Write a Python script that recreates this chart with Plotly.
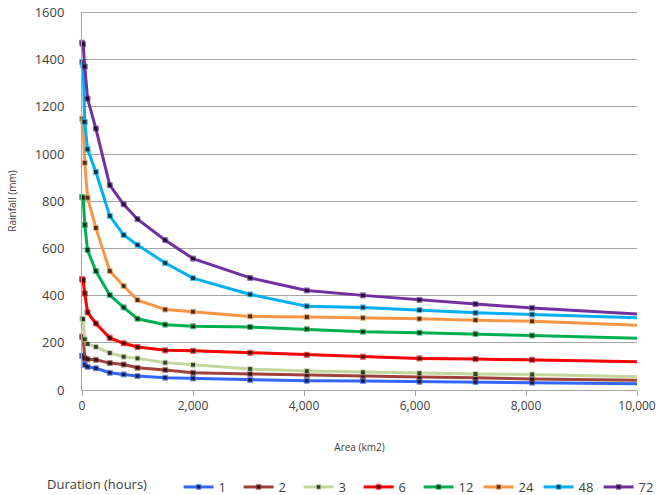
import plotly.graph_objects as go

area_km2 = [0, 20, 50, 100, 250, 500, 750, 1000, 1500, 2000, 3030, 4050, 5060, 6080, 7090, 8110, 10000]

durations = ["1", "2", "3", "6", "12", "24", "48", "72"]

rain_1h = [145, 143, 106, 98, 92, 73, 66, 59, 52, 49, 42, 39, 38, 35, 34, 31, 27]
rain_2h = [226, 224, 135, 130, 128, 114, 108, 94, 85, 73, 68, 63, 59, 55, 52, 47, 41]
rain_3h = [303, 300, 215, 195, 183, 157, 141, 134, 116, 107, 89, 80, 75, 71, 68, 66, 56]
rain_6h = [470, 465, 409, 329, 282, 221, 198, 182, 168, 166, 158, 149, 141, 134, 131, 128, 120]
rain_12h = [818, 815, 700, 593, 504, 402, 350, 302, 277, 270, 267, 258, 247, 243, 238, 231, 219]
rain_24h = [1150, 1140, 963, 815, 687, 504, 441, 381, 341, 332, 312, 309, 306, 302, 296, 291, 274]
rain_48h = [1390, 1375, 1136, 1020, 924, 738, 657, 615, 538, 474, 405, 355, 350, 339, 327, 320, 306]
rain_72h = [1472, 1465, 1371, 1235, 1108, 868, 787, 724, 635, 557, 475, 422, 401, 382, 364, 348, 322]

series = [rain_1h, rain_2h, rain_3h, rain_6h, rain_12h, rain_24h, rain_48h, rain_72h]
colors = ["#3366FF", "#A0413C", "#C3D69B", "#FF0000", "#00B050", "#F79646", "#00B0F0", "#7030A0"]

y_ticks = [0, 200, 400, 600, 800, 1000, 1200, 1400, 1600]
x_ticks = [0, 2000, 4000, 6000, 8000, 10000]

marker_sizes = [5] * (len(area_km2) - 1) + [0]

fig = go.Figure()
for name, vals, col in zip(durations, series, colors):
    fig.add_trace(go.Scatter(
        x=area_km2, y=vals, name=name, mode="lines+markers",
        line=dict(color=col, width=3),
        marker=dict(color="black", size=marker_sizes, symbol="square"),
        cliponaxis=False,
    ))

grid_col = "#A6A6A6"
fig.add_shape(type="line", xref="paper", x0=0, x1=1, yref="y", y0=y_ticks[-1], y1=y_ticks[-1],
              line=dict(color=grid_col, width=1), layer="below")

fig.update_layout(
    width=660, height=495,
    margin=dict(l=82, r=23, t=12, b=105, autoexpand=False),
    paper_bgcolor="white", plot_bgcolor="white",
    font=dict(family="Open Sans, Liberation Sans, sans-serif", color="#404040"),
    xaxis=dict(
        range=[0, 10000], tickvals=x_ticks,
        tickformat=",d", showgrid=False, zeroline=False, automargin=False,
        showline=True, linecolor=grid_col, linewidth=1,
        ticks="outside", tickcolor=grid_col, ticklen=5,
        tickfont=dict(size=12, color="#404040"), ticklabeloverflow="allow",
        title=dict(text="Area (km2)", font=dict(size=10, color="#404040"), standoff=30),
    ),
    yaxis=dict(
        range=[0, 1602], tickvals=y_ticks,
        showgrid=True, gridcolor=grid_col, gridwidth=1,
        zeroline=False, showline=True, linecolor=grid_col, linewidth=1, automargin=False,
        tickfont=dict(size=13, color="#404040"), ticklabeloverflow="allow",
        ticklabelstandoff=14,
        title=dict(text="Rainfall (mm)", font=dict(size=10, color="#404040"), standoff=16),
    ),
    legend=dict(
        orientation="h", x=-0.0667, xanchor="left", y=-0.2566, yanchor="middle",
        title=dict(text="Duration (hours)       ", font=dict(size=13, color="#404040"), side="left"),
        font=dict(size=13, color="#404040"),
        entrywidth=15, itemwidth=30, traceorder="normal",
    ),
)

fig.write_html("out.html", config={"displayModeBar": False},
               post_script="document.body.style.margin='0';")
